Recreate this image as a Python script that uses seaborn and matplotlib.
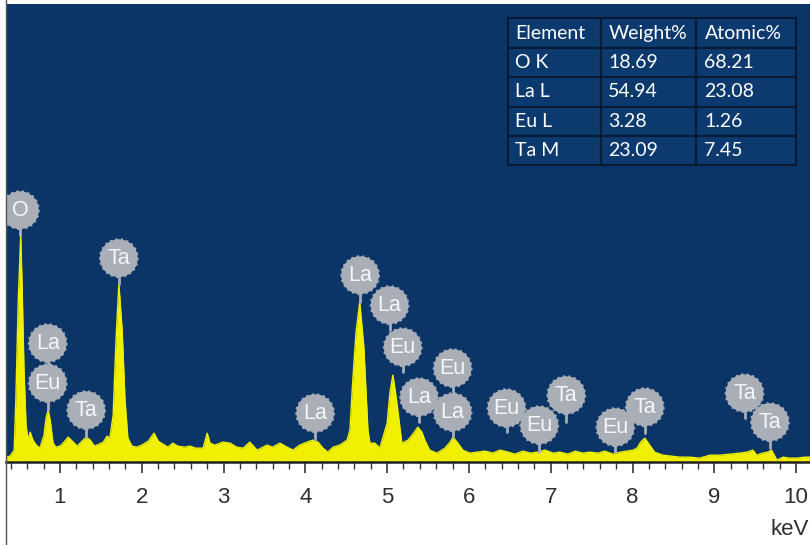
import pandas as pd
import matplotlib
matplotlib.use('Agg')
import matplotlib.pyplot as plt
from matplotlib.ticker import MultipleLocator
from matplotlib.lines import Line2D
from matplotlib import font_manager
import seaborn as sns

# EDS spectrum (energy in keV, counts in arbitrary units)
energy_kev = [0.34, 0.39, 0.44, 0.46, 0.49, 0.52, 0.535, 0.56, 0.585, 0.61,
              0.635, 0.67, 0.71, 0.755, 0.805, 0.83, 0.855, 0.88, 0.915, 0.95,
              1.00, 1.05, 1.10, 1.15, 1.21, 1.27, 1.32, 1.37, 1.42, 1.48,
              1.53, 1.575, 1.61, 1.65, 1.685, 1.72, 1.76, 1.795, 1.83, 1.88,
              1.94, 2.00, 2.08, 2.15, 2.20, 2.26, 2.32, 2.38, 2.44, 2.52,
              2.59, 2.66, 2.75, 2.80, 2.835, 2.895, 2.99, 3.08, 3.16, 3.24,
              3.32, 3.41, 3.53, 3.60, 3.69, 3.775, 3.85, 3.93, 4.02, 4.09,
              4.155, 4.215, 4.275, 4.34, 4.42, 4.51, 4.545, 4.58, 4.62, 4.665,
              4.715, 4.765, 4.79, 4.85, 4.91, 5.00, 5.035, 5.07, 5.11, 5.155,
              5.18, 5.255, 5.315, 5.375, 5.425, 5.46, 5.52, 5.61, 5.705, 5.77,
              5.805, 5.865, 5.925, 6.01, 6.10, 6.20, 6.29, 6.38, 6.48, 6.56,
              6.66, 6.75, 6.84, 6.93, 7.03, 7.11, 7.21, 7.30, 7.39, 7.48,
              7.58, 7.66, 7.76, 7.85, 7.93, 8.005, 8.055, 8.10, 8.15, 8.21,
              8.27, 8.37, 8.48, 8.58, 8.70, 8.82, 8.95, 9.07, 9.19, 9.31,
              9.40, 9.47, 9.52, 9.59, 9.655, 9.70, 9.765, 9.84, 9.92, 10.01,
              10.11, 10.17]
counts = [50, 60, 120, 620, 1620, 2270, 1820, 920, 370, 220,
          300, 220, 170, 140, 270, 440, 520, 420, 190, 150,
          160, 200, 250, 210, 160, 210, 250, 220, 160, 180,
          200, 260, 240, 470, 1220, 1780, 1320, 620, 240, 160,
          150, 170, 210, 290, 210, 180, 150, 190, 160, 150,
          160, 140, 140, 290, 190, 170, 200, 190, 150, 140,
          200, 120, 170, 150, 190, 150, 120, 170, 200, 220,
          200, 140, 100, 150, 170, 220, 320, 820, 1300, 1600,
          1150, 320, 190, 190, 140, 390, 700, 870, 650, 350,
          190, 220, 280, 350, 300, 220, 120, 90, 140, 200,
          250, 190, 120, 90, 100, 110, 90, 120, 100, 80,
          110, 90, 100, 120, 90, 100, 80, 110, 90, 100,
          90, 110, 80, 100, 110, 120, 140, 200, 240, 170,
          100, 70, 60, 50, 50, 40, 70, 70, 80, 90,
          100, 120, 70, 90, 100, 120, 20, 50, 40, 40,
          50, 50]

# peak markers
peak_names = ['O', 'La', 'Eu', 'Ta', 'Ta', 'La', 'La', 'La', 'Eu', 'La',
              'Eu', 'La', 'Eu', 'Eu', 'Ta', 'Eu', 'Ta', 'Ta', 'Ta']
peak_kev = [0.51, 0.85, 0.85, 1.32, 1.72, 4.12, 4.67, 5.03, 5.19, 5.39,
            5.80, 5.80, 6.46, 6.86, 7.19, 7.79, 8.15, 9.37, 9.68]
marker_counts = [2520, 1190, 790, 520, 2040, 490, 1870, 1570, 1150, 650,
                 940, 500, 540, 370, 670, 350, 550, 690, 400]
stem_counts = [2270, 790, 520, 250, 1780, 220, 1600, 1320, 900, 400,
               500, 250, 300, 100, 400, 100, 290, 440, 140]

# quantification table
table_header = ['Element', 'Weight%', 'Atomic%']
table_elements = ['O K', 'La L', 'Eu L', 'Ta M']
weight_pct = ['18.69', '54.94', '3.28', '23.09']
atomic_pct = ['68.21', '23.08', '1.26', '7.45']

sns.set_style('ticks')
plt.rcParams['font.family'] = ['Liberation Sans', 'DejaVu Sans']
installed = {f.name for f in font_manager.fontManager.ttflist}
narrow = 'Liberation Sans Narrow' if 'Liberation Sans Narrow' in installed else 'Liberation Sans'

navy = '#0b3567'
yellow = '#f0f000'
marker_grey = '#a9aeb7'

fig = plt.figure(figsize=(8.1, 5.45), dpi=100)
ax = fig.add_axes([0.0074, 0.152, 0.9926, 0.8404])
ax.set_facecolor(navy)

df = pd.DataFrame({'keV': energy_kev, 'counts': counts})
ax.fill_between(df['keV'], df['counts'], 0, color=yellow, lw=0, zorder=2)
sns.lineplot(data=df, x='keV', y='counts', ax=ax, color=yellow, lw=1, zorder=2)

for x, y0, y1 in zip(peak_kev, marker_counts, stem_counts):
    ax.plot([x, x], [y0, y1], color=marker_grey, lw=2, zorder=3)
ax.scatter(peak_kev, marker_counts, s=740, color=marker_grey,
           edgecolors=marker_grey, linewidths=1.5, linestyle=':', zorder=4)
for name, x, y in zip(peak_names, peak_kev, marker_counts):
    ax.text(x, y, name, ha='center', va='center', color='#f4f6f8',
            fontsize=15.5, family=narrow, zorder=5)

ax.set_xlim(0.34, 10.17)
ax.set_ylim(0, 4580)
ax.set_xlabel('')
ax.set_ylabel('')
ax.set_yticks([])
ax.xaxis.set_major_locator(MultipleLocator(1))
ax.xaxis.set_minor_locator(MultipleLocator(0.2))
ax.tick_params(axis='x', which='major', direction='out', length=8, width=1.2,
               color='#333333', labelsize=16, labelcolor='#2e2e2e', pad=10)
ax.tick_params(axis='x', which='minor', direction='out', length=5, width=1.0,
               color='#333333')
for lbl in ax.get_xticklabels():
    lbl.set_family(narrow)
for side in ['top', 'left', 'right']:
    ax.spines[side].set_visible(False)
ax.spines['bottom'].set_color('#222222')
ax.spines['bottom'].set_linewidth(1.8)

cell_text = [[e, w, a] for e, w, a in zip(table_elements, weight_pct, atomic_pct)]
tbl = ax.table(cellText=cell_text, colLabels=table_header, cellLoc='left',
               colLoc='left', colWidths=[93, 96, 100],
               bbox=[0.624, 0.648, 0.359, 0.321])
tbl.auto_set_font_size(False)
for (r, c), cell in tbl.get_celld().items():
    cell.set_facecolor('#0c3a6e')
    cell.set_edgecolor('#0a1a33')
    cell.set_linewidth(1.5)
    cell.get_text().set_color('white')
    cell.get_text().set_fontsize(14)
    cell.get_text().set_family('Lato')
    cell.PAD = 0.08
tbl.set_zorder(6)

fig.text(0.998, 0.028, 'keV', ha='right', va='center', fontsize=16,
         color='#2e2e2e', family=narrow)
fig.add_artist(Line2D([0.0074, 0.0074], [0, 1], color='#555555', lw=1))

fig.savefig('out.png', dpi=100, facecolor='white')
